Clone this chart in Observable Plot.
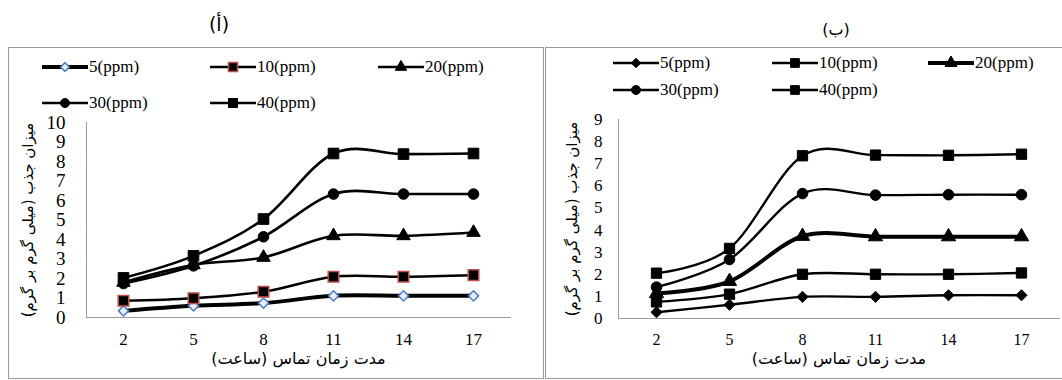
<!DOCTYPE html>
<html><head><meta charset="utf-8">
<script src="https://cdn.jsdelivr.net/npm/d3@7"></script>
<script src="https://cdn.jsdelivr.net/npm/@observablehq/plot@0.6"></script>
<style>
body{margin:0;width:1062px;height:380px;position:relative;background:#fff;overflow:hidden;font-family:"Liberation Serif","Times New Roman",Tinos,"DejaVu Serif",serif;color:#000;}
.frame{position:absolute;border:1px solid #9a9a9a;box-sizing:border-box;}
.title{position:absolute;font-family:"DejaVu Sans",sans-serif;transform:translate(-50%,-50%);white-space:nowrap;}
.leg{position:absolute;display:flex;align-items:center;font-family:"Liberation Serif","Times New Roman",Tinos,"DejaVu Serif",serif;font-size:17px;white-space:nowrap;transform:translateY(-50%);}
.leg svg{display:block;margin-right:1px;}
</style></head><body>
<script>
// ---- data ----
const times = [2, 5, 8, 11, 14, 17];
const seriesNames = ["5(ppm)", "10(ppm)", "20(ppm)", "30(ppm)", "40(ppm)"];
const panelTitles = ["(أ)", "(ب)"];
const xTitle = "مدت زمان تماس (ساعت)";
const yTitle = "میزان جذب (میلی گرم بر گرم)";
const yTicksA = [0, 1, 2, 3, 4, 5, 6, 7, 8, 9, 10];
const yTicksB = [0, 1, 2, 3, 4, 5, 6, 7, 8, 9];

// panel (أ)
const a5  = [0.34, 0.60, 0.74, 1.11, 1.11, 1.11];
const a10 = [0.86, 0.99, 1.32, 2.09, 2.09, 2.17];
const a20 = [1.80, 2.70, 3.08, 4.19, 4.19, 4.36];
const a30 = [1.74, 2.65, 4.14, 6.33, 6.33, 6.33];
const a40 = [2.03, 3.16, 5.05, 8.41, 8.38, 8.41];

// panel (ب)
const b5  = [0.28, 0.62, 0.98, 0.98, 1.05, 1.05];
const b10 = [0.75, 1.10, 2.00, 2.00, 2.00, 2.06];
const b20 = [1.13, 1.68, 3.72, 3.70, 3.70, 3.70];
const b30 = [1.42, 2.67, 5.65, 5.58, 5.60, 5.60];
const b40 = [2.05, 3.17, 7.36, 7.39, 7.38, 7.43];

// ---- styles ----
const SERIF = "Liberation Serif, Times New Roman, Tinos, DejaVu Serif, serif";
const RLM = "\u200F";
const symbolsD3 = {diamond2: d3.symbolDiamond2, square: d3.symbolSquare, triangle: d3.symbolTriangle, circle: d3.symbolCircle};

const styleA = [
  {symbol: "diamond2", r: 4.6, fill: "#e6eef8", stroke: "#4a7ebb", sw: 1.5, lw: 4},
  {symbol: "square", r: 6.0, fill: "#000", stroke: "#c0504d", sw: 1.5, lw: 2.6},
  {symbol: "triangle", r: 5.0, fill: "#000", stroke: "#000", sw: 1, lw: 2.6},
  {symbol: "circle", r: 5.3, fill: "#000", stroke: "#000", sw: 1, lw: 2.6},
  {symbol: "square", r: 6.0, fill: "#000", stroke: "#000", sw: 1, lw: 2.6}
];
const styleB = [
  {symbol: "diamond2", r: 5.0, fill: "#000", stroke: "#000", sw: 1, lw: 2.4},
  {symbol: "square", r: 5.8, fill: "#000", stroke: "#000", sw: 1, lw: 2.4},
  {symbol: "triangle", r: 5.3, fill: "#000", stroke: "#000", sw: 1, lw: 4},
  {symbol: "circle", r: 5.3, fill: "#000", stroke: "#000", sw: 1, lw: 2.4},
  {symbol: "square", r: 5.8, fill: "#000", stroke: "#000", sw: 1, lw: 2.4}
];

function el(tag, cls, css, text) {
  const e = document.createElement(tag);
  if (cls) e.className = cls;
  if (css) Object.assign(e.style, css);
  if (text != null) e.textContent = text;
  document.body.appendChild(e);
  return e;
}

function makePanel(cfg) {
  const rows = [];
  cfg.values.forEach((vals, i) => vals.forEach((v, j) => rows.push({t: times[j], v, s: seriesNames[i]})));
  const marks = [
    Plot.frame({anchor: "left", stroke: "#9a9a9a"}),
    Plot.frame({anchor: "bottom", stroke: "#9a9a9a"}),
    Plot.axisX({tickSize: 0, tickPadding: cfg.xPad, fontSize: cfg.xFont, fontFamily: SERIF, label: null}),
    Plot.axisY({ticks: cfg.yTicks, tickSize: 0, tickPadding: cfg.yPad, fontSize: cfg.yFont, fontFamily: SERIF, label: null, tickFormat: d => String(d)})
  ];
  seriesNames.forEach((name, i) => {
    const d = rows.filter(r => r.s === name);
    marks.push(Plot.line(d, {x: "t", y: "v", curve: "cardinal", tension: 0, stroke: "#000", strokeWidth: cfg.styles[i].lw}));
  });
  seriesNames.forEach((name, i) => {
    const d = rows.filter(r => r.s === name);
    const st = cfg.styles[i];
    marks.push(Plot.dot(d, {x: "t", y: "v", symbol: st.symbol, r: st.r, fill: st.fill, stroke: st.stroke, strokeWidth: st.sw}));
  });
  marks.push(Plot.text([RLM + xTitle + RLM], {text: d => d, frameAnchor: "bottom", textAnchor: "middle", dy: cfg.xTitleDy, fontFamily: "DejaVu Sans", fontSize: 16}));
  marks.push(Plot.text([RLM + yTitle + RLM], {text: d => d, frameAnchor: "left", textAnchor: "middle", dx: cfg.yTitleDx, rotate: -90, fontFamily: "DejaVu Sans", fontSize: 15}));
  const svg = Plot.plot({
    width: cfg.width, height: cfg.height,
    marginLeft: cfg.ml, marginRight: cfg.mr, marginTop: cfg.mt, marginBottom: cfg.mb,
    x: {type: "point", domain: times, padding: 0.5},
    y: {domain: [cfg.yTicks[0], cfg.yTicks[cfg.yTicks.length - 1]]},
    style: {fontFamily: SERIF, background: "transparent", color: "#000", overflow: "visible"},
    marks
  });
  Object.assign(svg.style, {left: cfg.left + "px", top: cfg.top + "px", position: "absolute"});
  document.body.appendChild(svg);
}

function swatch(st, lineW, markScale) {
  const w = 46, h = 16;
  const ns = "http://www.w3.org/2000/svg";
  const s = document.createElementNS(ns, "svg");
  s.setAttribute("width", w); s.setAttribute("height", h);
  const ln = document.createElementNS(ns, "line");
  ln.setAttribute("x1", 0); ln.setAttribute("x2", w); ln.setAttribute("y1", h / 2); ln.setAttribute("y2", h / 2);
  ln.setAttribute("stroke", "#000"); ln.setAttribute("stroke-width", lineW);
  s.appendChild(ln);
  const p = document.createElementNS(ns, "path");
  const r = st.r * markScale;
  p.setAttribute("d", d3.symbol(symbolsD3[st.symbol], Math.PI * r * r)());
  p.setAttribute("transform", `translate(${w / 2},${h / 2})`);
  p.setAttribute("fill", st.fill); p.setAttribute("stroke", st.stroke); p.setAttribute("stroke-width", st.sw);
  s.appendChild(p);
  return s;
}

function legend(styles, cols, rowsY) {
  seriesNames.forEach((name, i) => {
    const c = i % 3, r = Math.floor(i / 3);
    const d = el("div", "leg", {left: cols[c] + "px", top: rowsY[r] + "px"});
    d.appendChild(swatch(styles[i], styles[i].lw, 0.85));
    const sp = document.createElement("span");
    sp.textContent = name;
    d.appendChild(sp);
  });
}

// frames
el("div", "frame", {left: "8px", top: "47px", width: "536px", height: "332px"});
el("div", "frame", {left: "545px", top: "47px", width: "530px", height: "332px"});

// titles
const t1 = el("div", "title", {left: "219px", top: "24px", fontSize: "19px"}, panelTitles[0]); t1.dir = "rtl";
const t2 = el("div", "title", {left: "836px", top: "29px", fontSize: "16px"}, panelTitles[1]); t2.dir = "rtl";

// legends
legend(styleA, [42, 210, 378], [67, 103]);
legend(styleB, [613, 772, 928], [63, 90]);

// panels
makePanel({values: [a5, a10, a20, a30, a40], styles: styleA, yTicks: yTicksA,
  left: 0, top: 110, width: 540, height: 270, ml: 86, mr: 30, mt: 12, mb: 63,
  xPad: 15, xFont: 17, yPad: 21, yFont: 19, xTitleDy: 46, yTitleDx: -58});
makePanel({values: [b5, b10, b20, b30, b40], styles: styleB, yTicks: yTicksB,
  left: 540, top: 110, width: 522, height: 270, ml: 78, mr: 3, mt: 9, mb: 62,
  xPad: 15, xFont: 16, yPad: 16, yFont: 17, xTitleDy: 45, yTitleDx: -46});
</script>
</body></html>
